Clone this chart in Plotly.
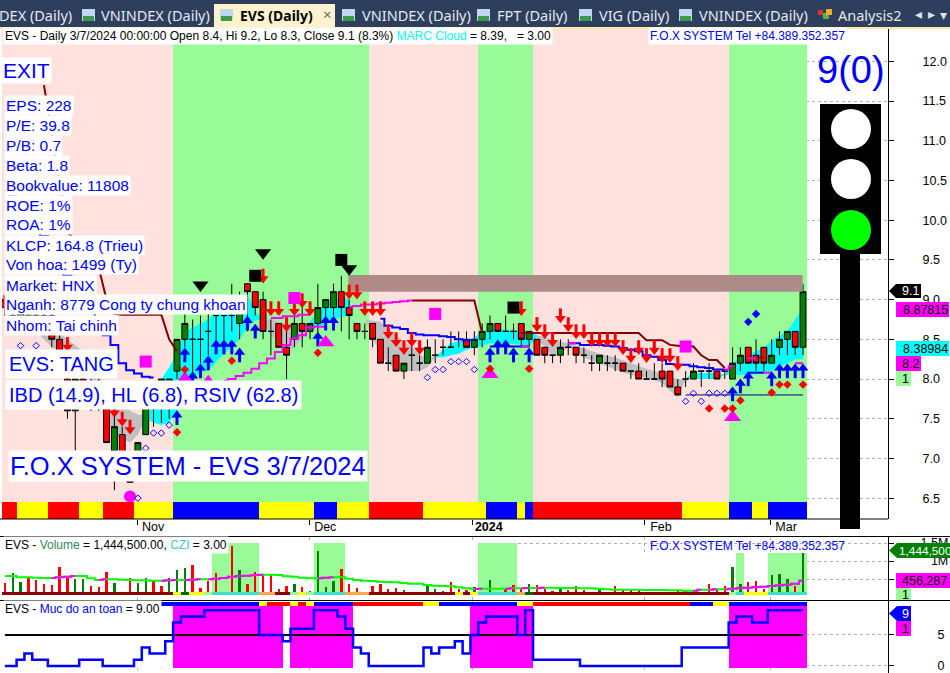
import plotly.graph_objects as go

W, H = 950, 673
FONT = "Liberation Sans"

# ---------- data ----------
opens = [9.0,8.8,8.7,8.8,8.8,8.8,8.8,8.5,8.0,7.6,8.0,7.9,7.9,7.65,7.1,7.3,7.0,6.9,7.3,7.7,7.8,7.8,
         8.1,8.5,8.5,8.5,8.6,8.8,8.8,8.8,8.7,9.2,9.1,9.0,8.6,8.7,8.4,8.5,8.7,8.6,8.7,8.9,8.9,9.1,8.9,8.7,8.6,8.7,8.5,8.2,
         8.3,8.1,8.3,8.2,8.2,8.3,8.4,8.4,8.5,8.5,8.4,8.5,8.6,8.7,8.6,8.6,8.7,8.5,8.5,8.4,8.3,8.3,8.4,8.4,8.3,8.2,8.2,8.2,8.2,8.2,
         8.1,8.1,8.0,8.0,8.1,8.1,7.9,8.0,8.0,8.1,8.1,8.1,8.1,8.0,8.2,8.4,8.3,8.4,8.2,8.4,8.5,8.6,8.4]
highs = [9.0,8.9,8.9,8.9,8.9,8.9,8.9,8.6,8.1,8.0,8.1,8.0,8.0,7.9,7.7,7.4,7.1,7.2,7.9,7.9,8.0,8.0,
         8.5,9.0,8.75,8.8,8.9,8.8,8.8,9.2,9.1,9.2,9.1,9.1,8.75,8.7,8.7,8.8,9.0,8.7,9.2,9.0,9.2,9.3,9.0,8.7,8.7,8.7,8.5,8.4,
         8.3,8.2,8.5,8.3,8.5,8.5,8.5,8.6,8.6,8.6,8.6,8.7,8.8,8.7,8.8,8.7,8.7,8.6,8.5,8.4,8.3,8.5,8.5,8.4,8.4,8.3,8.3,8.3,8.3,8.2,
         8.1,8.2,8.1,8.2,8.2,8.1,8.0,8.1,8.2,8.1,8.2,8.1,8.1,8.4,8.4,8.4,8.5,8.4,8.5,8.6,8.6,8.6,9.2]
lows  = [8.8,8.7,8.6,8.7,8.6,8.6,8.4,8.2,7.5,7.1,7.7,7.6,7.6,7.2,6.6,6.9,6.7,6.8,7.3,7.4,7.45,7.5,
         8.0,8.4,8.05,8.2,8.3,8.4,8.4,8.6,8.5,8.6,8.8,8.5,8.3,8.4,8.0,8.4,8.4,8.5,8.5,8.7,8.8,8.6,8.5,8.5,8.5,8.4,8.2,8.1,
         8.1,8.0,8.1,8.1,8.2,8.2,8.3,8.4,8.4,8.4,8.3,8.4,8.5,8.6,8.6,8.5,8.4,8.4,8.3,8.2,8.2,8.2,8.3,8.2,8.2,8.1,8.1,8.1,8.1,8.1,
         8.0,8.0,8.0,8.0,7.9,7.9,7.8,7.9,8.0,7.9,8.0,8.0,8.0,8.0,8.1,8.2,8.1,8.1,8.2,8.3,8.3,8.3,8.3]
closes= [8.9,8.8,8.9,8.8,8.7,8.7,8.5,8.3,7.6,8.0,7.8,7.7,7.7,7.2,7.4,6.9,6.7,7.2,7.65,7.9,8.0,8.0,
         8.5,8.7,8.5,8.5,8.6,8.8,8.8,8.8,8.9,9.1,8.9,8.6,8.6,8.4,8.3,8.7,8.6,8.7,8.9,9.0,9.1,8.9,8.8,8.6,8.6,8.5,8.2,8.2,
         8.1,8.2,8.3,8.2,8.4,8.3,8.4,8.4,8.5,8.4,8.5,8.6,8.7,8.6,8.6,8.6,8.5,8.6,8.3,8.3,8.3,8.4,8.4,8.3,8.3,8.2,8.3,8.2,8.2,8.1,
         8.1,8.0,8.0,8.0,8.0,7.9,7.8,8.0,8.1,8.1,8.1,8.0,8.1,8.2,8.3,8.2,8.2,8.2,8.3,8.5,8.6,8.4,9.1]

volume_k = [380,657,407,519,472,361,333,824,546,500,500,306,269,685,380,148,519,380,519,435,306,519,
            750,796,889,241,454,657,148,1417,750,361,694,639,602,213,306,361,269,167,1278,269,454,778,361,250,148,306,361,222,
            241,194,148,148,333,213,167,417,213,194,269,120,472,120,213,324,213,361,333,231,167,269,194,306,194,148,250,139,306,213,
            231,231,120,139,120,139,176,194,167,148,361,194,306,824,352,417,444,222,611,639,500,315,1232]
volume_up = [1,2,9,10,14,17,18,21,22,23,30,37,39,40,41,42,51,54,55,56,60,62,67,71,76,88,93,94,98,99,100,102]
volume_ma = [583,583,546,546,537,528,528,546,565,583,583,519,472,491,491,481,472,463,463,454,454,463,
             472,472,481,491,491,509,528,565,583,593,611,620,620,611,574,565,537,519,519,537,546,546,509,472,454,444,426,417,
             407,389,370,370,333,315,306,296,269,241,222,231,231,231,231,241,241,250,250,259,259,250,250,250,241,241,231,213,204,204,
             204,204,194,194,194,185,185,176,176,204,204,213,213,231,250,259,278,287,306,324,343,370,454]
safety = [0,0,1,2,1,1,0,0,0,0,1,1,1,0,0,0,0,1,3,2,2,4,7,8,8,8,9,9,9,9,9,9,9,5,5,5,4,6,6,6,9,9,9,8,6,3,2,
          0,0,0,0,0,0,0,3,2,3,3,4,2,5,7,8,8,8,8,5,9,1,1,1,1,1,1,0,0,0,0,0,0,0,0,0,0,0,0,0,3,3,3,3,3,3,7,8,8,7,7,9,9,9,9,9]

zone_runs = [(22,"P"),(25,"G"),(14,"P"),(7,"G"),(25,"P"),(10,"G")]
main_strip_runs = [(2,"R"),(4,"Y"),(4,"R"),(3,"Y"),(4,"R"),(5,"Y"),(11,"B"),(7,"Y"),(3,"B"),(4,"Y"),(7,"R"),(8,"Y"),
                   (4,"B"),(1,"Y"),(1,"B"),(19,"R"),(6,"Y"),(3,"B"),(2,"Y"),(5,"B")]
vol_strip_runs = [(22,"D"),(1,"Y"),(1,"K"),(2,"Y"),(1,"G"),(6,"T"),(2,"O"),(2,"D"),(1,"G"),(1,"Y"),(1,"G"),(4,"T"),(3,"O"),
                  (11,"D"),(1,"Y"),(1,"D"),(1,"Y"),(5,"T"),(1,"O"),(1,"K"),(25,"D"),(1,"G"),(1,"T"),(3,"Y"),(5,"T")]
low_strip_runs = [(20,"W"),(13,"B"),(1,"Y"),(3,"R"),(1,"Y"),(1,"R"),(1,"Y"),(5,"B"),(9,"R"),(2,"Y"),(10,"B"),(2,"Y"),
                  (20,"R"),(3,"B"),(2,"Y"),(10,"B")]
vol_block_runs = [(27,"W"),(6,"G"),(7,"W"),(4,"G"),(17,"W"),(5,"G"),(28,"W"),(1,"G"),(3,"W"),(5,"G")]
vol_block_tops = [(66,1500),(37,1233)]
low_block_runs = [(22,"W"),(14,"M"),(1,"W"),(8,"M"),(15,"W"),(8,"M"),(25,"W"),(10,"M")]

# cloud pieces: (bars, upper, lower)
cloud_gray = [
    ([0,2,4,6,8,10,12,14,16,17,18],[9.06,8.95,8.85,8.65,8.5,8.35,8.05,7.75,7.6,7.55,7.55],[8.95,8.85,8.6,8.4,8.3,8.2,7.7,7.3,7.2,7.3,7.5]),
    ([33,34,35,36,37,38,39],[8.75,8.75,8.72,8.7,8.7,8.7,8.72],[8.75,8.55,8.45,8.35,8.4,8.5,8.65]),
    ([44,46,48,50,52,53,54,55],[8.8,8.75,8.72,8.55,8.4,8.3,8.28,8.28],[8.8,8.75,8.3,8.1,8.1,8.1,8.15,8.28]),
    ([68,69,70,71,72,73,74,76,78,80,82,84,85,86,87],[8.55,8.53,8.5,8.47,8.45,8.42,8.38,8.32,8.27,8.2,8.13,8.07,8.03,8.0,7.99],
     [8.5,8.4,8.28,8.32,8.4,8.35,8.27,8.2,8.12,8.05,8.02,7.95,7.85,7.77,7.99]),
]
cloud_cyan = [
    (list(range(18,34)),[7.7,7.85,8.0,8.15,8.32,8.6,8.65,8.7,8.75,8.85,8.9,8.95,9.02,9.07,8.85,8.75],
     [7.5,7.45,7.42,7.45,7.6,7.8,8.0,8.09,8.11,8.22,8.32,8.4,8.51,8.65,8.74,8.75]),
    ([39,40,41,42,43,44],[8.72,8.85,8.95,9.0,9.05,9.0],[8.7,8.65,8.7,8.75,8.78,8.8]),
    (list(range(55,69)),[8.28,8.37,8.45,8.48,8.5,8.52,8.6,8.63,8.63,8.62,8.62,8.61,8.6,8.55],
     [8.28,8.27,8.3,8.32,8.37,8.4,8.42,8.45,8.45,8.45,8.44,8.43,8.42,8.52]),
    ([87,88,89,90,91,92,93,94,95,96,97,98,99,100,101,102],[8.0,8.1,8.07,8.08,8.08,8.05,8.2,8.28,8.3,8.35,8.4,8.48,8.55,8.6,8.75,8.88],
     [8.0,8.0,8.0,8.0,8.0,8.05,8.05,8.05,8.05,8.07,8.07,8.1,8.15,8.2,8.25,8.25]),
]

stop_line = [([5,6,7,8,9,10,11,12,13,14,15,16,17,18,19,20,21,22],[11.7,11.1,10.45,9.85,9.75,9.7,9.6,9.4,9.0,8.82,8.81,8.81,8.81,8.81,8.81,8.81,8.5,8.35]),
             ([52,53,54,55,56,57,58,59,60,61],[8.99,8.99,8.99,8.99,8.99,8.99,8.99,8.99,8.99,8.58]),
             ([66,67,68,69,70,71,72,73,74,75,76,77,78,79,80,81,82,83,84,85,86,87,88,89,90,91,92],
              [8.58,8.58,8.58,8.58,8.58,8.58,8.58,8.58,8.58,8.58,8.58,8.58,8.58,8.58,8.58,8.58,8.49,8.49,8.49,8.43,8.42,8.42,8.41,8.3,8.24,8.24,8.14]),
             ([96,97],[8.27,8.27])]
blue_line = [(list(range(0,20)),[10.48,10.3,10.15,9.95,9.85,9.8,9.55,9.4,9.3,9.1,9.0,8.85,8.7,8.55,8.43,8.2,8.11,8.07,8.03,8.02]),
             ([48,49,50,51,52,53,54,55,56,57,58,59,60],[8.76,8.67,8.65,8.63,8.58,8.56,8.55,8.55,8.54,8.53,8.5,8.49,8.49]),
             ([62,63,64,65,66,67],[8.41,8.41,8.41,8.41,8.41,8.41]),
             ([72,73,74,75,76,77,78,79,80,81,82,83,84,85,86,87,88,89,90,91,92],
              [8.45,8.45,8.43,8.43,8.43,8.42,8.41,8.39,8.37,8.35,8.3,8.28,8.24,8.19,8.18,8.18,8.16,8.15,8.14,8.12,8.12]),
             ([95,96,97],[8.08,8.08,8.08])]
magenta_line = [(list(range(28,42)),[7.98,8.0,8.04,8.08,8.13,8.2,8.26,8.34,8.43,8.51,8.55,8.65,8.66,8.66]),
                ([34,35,36,37,38,39],[8.77,8.77,8.79,8.79,8.81,8.81]),
                ([44,45,46,47,48,49,50,51,52],[8.91,8.92,8.94,8.94,8.95,8.96,8.97,8.98,8.99]),
                ([69,70],[8.58,8.58]),([72,73],[8.45,8.45]),([66,67],[8.41,8.41]),
                ([92,93],[8.12,8.16]),([95,96],[8.26,8.26]),([97,98],[8.08,8.08]),([101,102],[8.2,8.2])]
floor_line = ([87,102],[7.8,7.8])

blue_up_i = [22,23,24,25,26,27,28,29,30,31,32,40,41,42,62,63,64,65,67,93,94,95,98,99,100,101,102]
blue_up_p = [7.61,8.40,8.10,8.20,8.30,8.50,8.50,8.50,8.40,8.80,8.70,8.60,8.80,8.80,8.40,8.50,8.50,8.40,8.40,7.91,8.01,8.10,8.10,8.20,8.20,8.20,8.20]
red_dn_i = [0,3,6,8,14,15,16,33,34,35,36,37,38,39,44,45,46,47,48,49,50,51,52,53,66,68,69,70,71,72,73,74,75,76,77,78,79,80,81,82,83,84,85,86]
red_dn_p = [8.87,8.87,8.87,8.34,7.51,7.40,7.30,9.20,8.79,8.79,8.59,8.79,8.89,8.79,9.00,9.00,8.79,8.79,8.79,8.50,8.40,8.30,8.40,8.30,
            8.79,8.59,8.50,8.40,8.70,8.59,8.50,8.50,8.40,8.40,8.40,8.40,8.30,8.20,8.30,8.20,8.30,8.20,8.20,8.10]
red_dot_i = [22,23,29,40,62,67,90,92,93,94,98,99,100,102]
red_dot_p = [7.33,8.12,8.23,8.33,8.13,8.13,7.63,7.63,7.63,7.73,7.83,7.93,7.93,7.93]
blue_dot_i = [95,96]
blue_dot_p = [8.72,8.82]
hollow_i = [2,4,17,18,19,20,21,54,55,56,57,58,59,60,87,88,89,90,91,92]
hollow_p = [8.42,8.42,6.50,7.13,7.32,7.32,7.42,8.02,8.12,8.12,8.22,8.22,8.22,8.12,7.72,7.82,7.72,7.82,7.82,7.82]
mag_tri_i = [23,26,41,62,93]
mag_tri_p = [8.0,7.96,8.46,8.06,7.52]
mag_sq_i = [18,37,55,87]
mag_sq_p = [8.22,9.02,8.82,8.41]
black_sq_i = [32,43,65]
black_sq_p = [9.30,9.50,8.90]
black_tri_i = [25,33,44]
black_tri_p = [9.185,9.59,9.39]
mag_dot_i = [16]
mag_dot_p = [6.52]
resistance = (43.9, 101.95, 9.10, 9.31)

tick_bars = [16.9, 38.9, 59.8, 81.8, 97.8]
tick_names = ["Nov", "Dec", "<b>2024</b>", "Feb", "Mar"]
price_ticks = [6.5,7.0,7.5,8.0,8.5,9.0,9.5,10.0,10.5,11.0,11.5,12.0]
vol_ticks = [500,1000,1500]
vol_labels = ["","&nbsp;&nbsp;&nbsp;1M","1.5M"]
safety_ticks = [0,5]

info_lines = ["EPS: 228","P/E: 39.8","P/B: 0.7","Beta: 1.8","Bookvalue: 11808","ROE: 1%","ROA: 1%","KLCP: 164.8 (Trieu)",
              "Von hoa: 1499 (Ty)","Market: HNX","Nganh: 8779 Cong ty chung khoan","Nhom: Tai chinh"]
tabs = [("DEX (Daily)",-3),("VNINDEX (Daily)",99),("VNINDEX (Daily)",360),("FPT (Daily)",495),("VIG (Daily)",597),("VNINDEX (Daily)",697),("Analysis2",836)]
tab_icons = [82,342,477,579,679]

# ---------- styling ----------
COL = dict(P="#FFE1DE",G="#98FB98",R="#FF0000",Y="#FFFF00",B="#0000FF",D="#8B0000",K="#006400",T="#40E0D0",O="#FFA54F",W="#FFFFFF",M="#FF00FF")
N = len(closes)
idx = list(range(N))
X0, DX = 4.85, 7.825
xr = [(2-X0)/DX, (888-X0)/DX]
PP = 79.4   # px per price unit

def expand(runs):
    out = []
    for n, c in runs:
        out += [COL[c]]*n
    return out
def px(x): return x/W
def py(y): return 1-y/H

fig = go.Figure()
def band(colors, lo, hi, ya, xa="x"):
    tops = hi if isinstance(hi, list) else [hi]*N
    fig.add_trace(go.Bar(x=idx,y=[t-lo for t in tops],base=lo,width=1,marker=dict(color=colors,line=dict(width=0)),xaxis=xa,yaxis=ya,hoverinfo="skip",showlegend=False))
def scat(xs, ys, ya="y4", xa="x", **kw):
    fig.add_trace(go.Scatter(x=xs,y=ys,xaxis=xa,yaxis=ya,hoverinfo="skip",showlegend=False,**kw))

# main bands
band(expand(zone_runs), 6.452, 12.42, "y")
band(expand(main_strip_runs), 6.24, 6.452, "y")
# clouds
for col, pieces in (("#C0C0C0",cloud_gray),("#00FFFF",cloud_cyan)):
    for b,u,l in pieces:
        scat(b+b[::-1], u+l[::-1], ya="y", mode="lines", fill="toself", fillcolor=col, line=dict(width=0))
# candles above clouds
fig.add_trace(go.Candlestick(x=idx,open=opens,high=highs,low=lows,close=closes,xaxis="x",yaxis="y4",whiskerwidth=0,
    increasing=dict(fillcolor="#008000",line=dict(color="#000000",width=1)),
    decreasing=dict(fillcolor="#FF0000",line=dict(color="#000000",width=1)),hoverinfo="skip",showlegend=False))
# resistance block
a,b,lo,hi = resistance
scat([a,b,b,a,a],[lo,lo,hi,hi,lo],mode="lines",fill="toself",fillcolor="#AF8B88",line=dict(width=0))

def lines(pieces, color, width=2, shape="linear"):
    xs, ys = [], []
    for b,v in pieces:
        xs += b+[None]; ys += v+[None]
    scat(xs,ys,mode="lines",line=dict(color=color,width=width,shape=shape))
lines(stop_line,"#800000",2)
lines(blue_line,"#0000FF",2,"hvh")
lines(magenta_line,"#FF00FF",2,"hvh")
lines([floor_line],"#000080",1)

# arrows
xs,ys=[],[]
for i,p in zip(blue_up_i,blue_up_p):
    xs+=[i,i,None]; ys+=[p-6/PP,p-15/PP,None]
scat(xs,ys,mode="lines",line=dict(color="#0000FF",width=3))
scat(blue_up_i,[p-5/PP for p in blue_up_p],mode="markers",marker=dict(symbol="triangle-up",size=9.5,color="#0000FF"))
xs,ys=[],[]
for i,p in zip(red_dn_i,red_dn_p):
    xs+=[i,i,None]; ys+=[p+6/PP,p+15/PP,None]
scat(xs,ys,mode="lines",line=dict(color="#FF0000",width=3))
scat(red_dn_i,[p+5/PP for p in red_dn_p],mode="markers",marker=dict(symbol="triangle-down",size=9.5,color="#FF0000"))
# other markers
scat(mag_sq_i,mag_sq_p,mode="markers",marker=dict(symbol="square",size=12,color="#FF00FF"))
scat(black_sq_i,black_sq_p,mode="markers",marker=dict(symbol="square",size=12,color="#000000"))
scat(black_tri_i,black_tri_p,mode="markers",marker=dict(symbol="triangle-down",size=14,color="#000000"))
scat(mag_tri_i,mag_tri_p,mode="markers",marker=dict(symbol="triangle-up",size=15,color="#FF00FF"))
scat(mag_dot_i,mag_dot_p,mode="markers",marker=dict(symbol="circle",size=12,color="#FF00FF"))
scat(hollow_i,hollow_p,mode="markers",marker=dict(symbol="diamond-open",size=5,color="#0000FF",line=dict(width=1,color="#0000FF")))
scat(red_dot_i,red_dot_p,mode="markers",marker=dict(symbol="diamond",size=6.5,color="#FF0000"))
scat(blue_dot_i,blue_dot_p,mode="markers",marker=dict(symbol="diamond",size=6.5,color="#0000FF"))

# volume panel
block_tops=[]
for n,t in vol_block_tops:
    block_tops += [t]*n
band(expand(vol_block_runs), 55, block_tops, "y2", "x2")
fig.add_trace(go.Bar(x=idx,y=[v-55 for v in volume_k],base=55,width=0.3,
    marker=dict(color=["#008000" if i in volume_up else "#FF0000" for i in idx],line=dict(width=0)),xaxis="x2",yaxis="y2",hoverinfo="skip",showlegend=False))
band(expand(vol_strip_runs),55,148,"y2","x2")
scat(idx,volume_ma,ya="y2",xa="x2",mode="lines",line=dict(color="#00FF00",width=2,shape="hvh"))
mx,my=[],[]
for i in idx[1:]:
    if volume_ma[i]>volume_ma[i-1]:
        mx+=[i-1,i,None]; my+=[volume_ma[i-1],volume_ma[i],None]
scat(mx,my,ya="y2",xa="x2",mode="lines",line=dict(color="#FF00FF",width=2,shape="hvh"))

# safety panel
band(expand(low_block_runs),-0.27,9.6,"y3","x3")
band(expand(low_strip_runs),9.6,10.35,"y3","x3")
scat(idx,[5]*N,ya="y3",xa="x3",mode="lines",line=dict(color="#000000",width=2))
scat(idx,safety,ya="y3",xa="x3",mode="lines",line=dict(color="#0000FF",width=2.5,shape="hvh"))

# ---------- text ----------
ann=[]
def text(t,x,y,size,color="#000000",bg=None,anchor="left",family=FONT,pad=1):
    d=dict(text=t,x=px(x),y=py(y),xref="paper",yref="paper",xanchor=anchor,yanchor="middle",showarrow=False,
           font=dict(family=family,size=size,color=color),align="left",borderpad=pad)
    if bg: d["bgcolor"]=bg
    ann.append(d)

text('EVS - Daily 3/7/2024 00:00:00 Open 8.4, Hi 9.2, Lo 8.3, Close 9.1 (8.3%) <span style="color:#00FFFF">MARC Cloud</span> = 8.39,&nbsp;&nbsp; = 3.00',3,36,12,bg="#FFFFFF")
text("F.O.X SYSTEM Tel +84.389.352.357",648,36,12,"#0000FF",bg="#FFFFFF")
text("EXIT",1,71,21,"#0000FF",bg="#FFFFFF")
for k,t in enumerate(info_lines):
    text(t,4,105+20*k,15.5,"#0000FF",bg="#FFFFFF")
text("EVS: TANG",5,364,20,"#0000FF",bg="#FFFFFF",pad=3)
text("IBD (14.9), HL (6.8), RSIV (62.8)",5,395,20,"#0000FF",bg="#FFFFFF",pad=3)
text("F.O.X SYSTEM - EVS 3/7/2024",8,466,25.5,"#0000FF",bg="#FFFFFF")
text("9(0)",815,70,38,"#0000FF")
text('EVS - <span style="color:#2E8B57">Volume</span> = 1,444,500.00, <span style="color:#40C8C8">CZI</span> = 3.00',3,545,12,bg="#FFFFFF")
text("F.O.X SYSTEM Tel +84.389.352.357",648,546,12,"#0000FF")
text('EVS - <span style="color:#0000FF">Muc do an toan</span> = 9.00',3,609,12,bg="#FFFFFF")

# tabs
shapes=[]
def rect(x0,y0,x1,y1,color,layer="above"):
    shapes.append(dict(type="rect",xref="paper",yref="paper",x0=px(x0),x1=px(x1),y0=py(y0),y1=py(y1),fillcolor=color,line=dict(width=0),layer=layer))
def circle(cx,cy,r,color):
    shapes.append(dict(type="circle",xref="paper",yref="paper",x0=px(cx-r),x1=px(cx+r),y0=py(cy-r),y1=py(cy+r),fillcolor=color,line=dict(width=0),layer="above"))
def hline(y,x0,x1):
    shapes.append(dict(type="line",xref="paper",yref="paper",x0=px(x0),x1=px(x1),y0=py(y),y1=py(y),line=dict(color="#000000",width=1),layer="above"))
def tag(x0,x1,y0,y1,color):
    m=(y0+y1)/2
    path=f"M {px(889)} {py(m)} L {px(x0)} {py(y0)} L {px(x1)} {py(y0)} L {px(x1)} {py(y1)} L {px(x0)} {py(y1)} Z"
    shapes.append(dict(type="path",xref="paper",yref="paper",path=path,fillcolor=color,line=dict(width=0),layer="above"))

rect(0,0,950,27,"#2E3F5E")
rect(0,27,950,29,"#FDE9A9")
rect(214,4,335,27,"#FFF3CF")
TAB="Noto Sans"
for t,x in tabs:
    text(t,x,15,14.5,"#E4E8F0",family=TAB)
text("<b>EVS (Daily)</b>",238,15,14,"#000000",family=TAB)
text("×",321,14,15,"#6E6A5E",family=TAB)
for x in tab_icons+[220]:
    rect(x,9,x+13,21,"#BFD8F0")
    rect(x+1,16,x+12,21,"#3E9A48")
rect(818,10,823,15,"#E03030"); rect(823,13,829,19,"#58B848"); rect(826,9,832,15,"#F0B020")
text("◂",913,14,14,"#DDE2EA",family="DejaVu Sans")
text("▸",926,14,14,"#DDE2EA",family="DejaVu Sans")
text("▾",938,15,14,"#DDE2EA",family="DejaVu Sans")

# traffic light
rect(840,250,860,529,"#000000")
rect(820,104,881,254,"#000000")
circle(851,129,20,"#FFFFFF"); circle(851,179,20,"#FFFFFF"); circle(851,230,20,"#00FF00")

# panel rules
hline(519,0,888); hline(536.5,0,950); hline(600.5,0,950)

# tags
tag(896,921,284,298,"#000000"); text("9.1",900,291,12.5,"#FFFFFF")
rect(896,302,949,317,"#FF00FF"); text("8.87815",901,310,12.5)
rect(896,341,949,356,"#00FFFF"); text("8.38984",901,349,12.5)
rect(896,356,921,371,"#FF00FF"); text("8.2",900,364,12.5)
rect(896,371,911,386,"#98FB98"); text("1",900,379,12.5)
tag(897,950,543,558,"#008000"); text("1,444,500",897,551,11.8,"#FFFFFF")
rect(896,573,950,588,"#FF00FF"); text("456,287",900,581,12.5)
rect(896,588,911,600,"#98FB98"); text("1",900,595,12.5)
tag(897,911,606,621,"#0000FF"); text("9",900,614,12.5,"#FFFFFF")
rect(896,621,911,636,"#FF00FF"); text("1",900,629,12.5)

# ---------- layout ----------
dom = lambda a,b:[1-b/H,1-a/H]
xbase=dict(range=xr,domain=[px(2),px(888)],showgrid=True,gridcolor="#B0B0B0",griddash="dot",gridwidth=1,zeroline=False,
           tickmode="array",tickvals=tick_bars,ticktext=tick_names,showline=False,rangeslider=dict(visible=False))
ybase=dict(side="right",showline=True,linecolor="#000000",linewidth=1,ticks="outside",ticklen=5,tickcolor="#000000",tickwidth=1,
           showgrid=True,gridcolor="#B0B0B0",griddash="dot",gridwidth=1,zeroline=False,tickfont=dict(family=FONT,size=12.5,color="#000000"),tickmode="array",ticklabeloverflow="allow")
fig.update_layout(width=W,height=H,margin=dict(l=0,r=0,t=0,b=0,autoexpand=False),paper_bgcolor="#FFFFFF",plot_bgcolor="#FFFFFF",barmode="overlay",
    bargap=0,boxgap=0.25,boxgroupgap=0,showlegend=False,annotations=ann,shapes=shapes,hovermode=False,
    xaxis=dict(xbase,anchor="y",ticks="outside",ticklen=5,tickcolor="#000000",showticklabels=True,ticklabelshift=16,ticklabelstandoff=-9,
               tickfont=dict(family=FONT,size=12.5,color="#000000")),
    xaxis2=dict(xbase,anchor="y2",matches="x",ticks="",showticklabels=False),
    xaxis3=dict(xbase,anchor="y3",matches="x",ticks="",showticklabels=False),
    yaxis=dict(ybase,domain=dom(28,519),range=[6.238,12.42],anchor="x",tickvals=price_ticks,ticktext=[f"{v:.1f}" for v in price_ticks],ticklabelstandoff=26),
    yaxis2=dict(ybase,domain=dom(537,600),range=[-83,1667],anchor="x2",tickvals=vol_ticks,ticktext=vol_labels,ticklabelstandoff=24),
    yaxis3=dict(ybase,domain=dom(601,673),range=[-1.13,10.48],anchor="x3",tickvals=safety_ticks,ticktext=[str(v) for v in safety_ticks],ticklabelstandoff=41),
    yaxis4=dict(overlaying="y",side="right",range=[6.238,12.42],visible=False,showgrid=False,zeroline=False),
)
fig.write_html("out.html",config={"displayModeBar":False},post_script="document.body.style.margin='0';document.body.style.overflow='hidden';")
